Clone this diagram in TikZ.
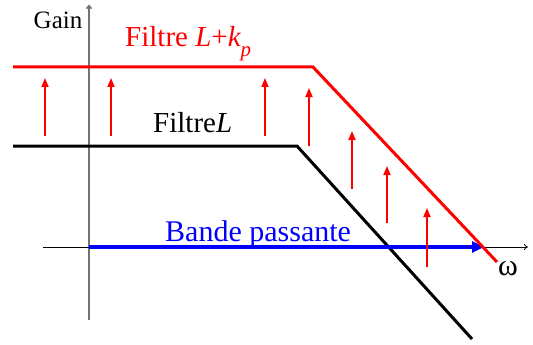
\documentclass[tikz,border=0pt]{standalone}
\usepackage{fontspec}
\setmainfont{Liberation Serif}
\usetikzlibrary{arrows.meta}
\definecolor{pred}{RGB}{255,0,0}
\definecolor{pblue}{RGB}{0,0,255}
\begin{document}
\begin{tikzpicture}[x=1pt,y=-1pt,
  axisv/.style={draw=gray!90!black,line width=1.6pt,-{To[length=4pt,width=6pt]}},
  axish/.style={draw=black,line width=0.8pt,-{To[length=4pt,width=6pt]}},
  curvered/.style={draw=pred,line width=3pt},
  curveblack/.style={draw=black,line width=3pt},
  gainarrow/.style={draw=pred,line width=1.8pt,-{Triangle[length=9pt,width=7pt]}},
  band/.style={draw=pblue,line width=3.5pt,-{Triangle[length=12pt,width=11pt]}},
  lbl/.style={inner sep=0pt,anchor=base west}]
\useasboundingbox (0,0) rectangle (533,345);
% axes
\coordinate (vb) at (89,320);
\coordinate (vt) at (89,5);
\coordinate (hl) at (43,247);
\coordinate (hr) at (528,247);
\draw[axisv] (vb) -- (vt);
\draw[axish] (hl) -- (hr);
% curves
\coordinate (r0) at (13,67);
\coordinate (r1) at (313,67);
\coordinate (r2) at (497,262);
\coordinate (b0) at (13,146);
\coordinate (b1) at (297,146);
\coordinate (b2) at (472,339);
\draw[curveblack,line join=miter] (b0) -- (b1) -- (b2);
% band
\coordinate (bs) at (89,247);
\coordinate (be) at (484,247);
\draw[band] (bs) -- (be);
\draw[curvered,line join=miter] (r0) -- (r1) -- (r2);
% shift arrows
\foreach \i/\x/\yb/\yt in {1/45/136/78,2/111/136/78,3/265/136/78,4/309/146/88,5/352/189/131,6/387/223/166,7/427/267/208}{
  \coordinate (s\i) at (\x,\yb);
  \coordinate (t\i) at (\x,\yt);
  \draw[gainarrow] (s\i) -- (t\i);
}
% labels
\node[inner sep=0pt,anchor=base] (gain) at (58,29) {\fontsize{25}{25}\selectfont Gain};
\node[lbl,text=pred] (fk) at (125,47) {\fontsize{29}{29}\selectfont Filtre {\itshape L}+{\itshape k}\raisebox{-10pt}{\fontsize{21}{21}\selectfont\itshape p}};
\node[lbl] (fl) at (153,132) {\fontsize{29}{29}\selectfont Filtre{\itshape L}};
\node[lbl,text=pblue] (bp) at (165,241) {\fontsize{30}{30}\selectfont Bande passante};
\node[inner sep=0pt] (om) at (508,269) {\fontsize{30}{30}\selectfont ω};
\end{tikzpicture}
\end{document}
